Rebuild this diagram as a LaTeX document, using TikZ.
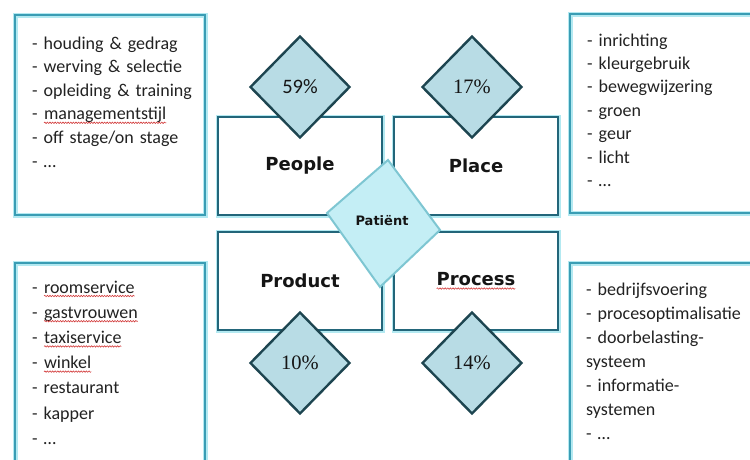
\documentclass[tikz,border=0pt]{standalone}
\usepackage{fontspec}
\setmainfont{Carlito}
\newfontfamily\titlefont{DejaVu Sans}
\newfontfamily\pctserif{Liberation Serif}
\usetikzlibrary{shapes.geometric,decorations.pathmorphing}

\definecolor{boxline}{HTML}{3A9DB4}
\definecolor{halo}{HTML}{B3E9F1}
\definecolor{rectline}{HTML}{23667A}
\definecolor{diafill}{HTML}{B8DCE5}
\definecolor{dialine}{HTML}{1D4550}
\definecolor{patfill}{HTML}{C4EEF5}
\definecolor{patline}{HTML}{7EC6D2}
\definecolor{txt}{HTML}{222222}
\definecolor{titletxt}{HTML}{151515}
\definecolor{spellred}{HTML}{D23A3A}

% red wavy underline for the flagged words
\newcommand\spellwave[1]{\tikz[baseline=(sw.base)]{%
  \node[shape=rectangle, draw=none, fill=none, inner sep=0pt, outer sep=0pt,
        minimum width=0pt, minimum height=0pt] (sw) {#1};
  \draw[spellred, line width=0.6pt, decorate,
        decoration={snake, amplitude=0.7pt, segment length=2.6pt}]
    ([yshift=-3pt]sw.base west) -- ([yshift=-3pt]sw.base east);}}

\tikzset{
  listbox/.style={draw=boxline, line width=2.2pt, preaction={draw=halo, line width=5pt}},
  listtext/.style={font=\fontsize{18}{#1}\selectfont, text=txt, inner sep=0pt,
                   text width=175pt, align=left, anchor=base west},
  catbox/.style={rectangle, draw=rectline, line width=2.6pt, fill=white,
                 preaction={draw=halo, line width=5pt},
                 minimum width=164pt, minimum height=98pt, inner sep=0pt,
                 font=\titlefont\bfseries\fontsize{18}{20}\selectfont, text=titletxt},
  pctdia/.style={diamond, draw=dialine, fill=diafill, line width=2.4pt,
                 minimum width=100pt, minimum height=102pt, inner sep=0pt,
                 font=\fontsize{20.5}{22}\selectfont, text=titletxt},
  patdia/.style={draw=patline, fill=patfill, line width=2pt, line join=miter},
}

\begin{document}
\begin{tikzpicture}[x=1pt, y=-1pt]
\useasboundingbox (0,0) rectangle (750,459);
\clip (0,0) rectangle (750,459);
\fill[white] (0,0) rectangle (750,459);

% outer list boxes
\draw[listbox] (15,15) rectangle (205,215);
\draw[listbox] (570,14) rectangle (758,213);
\draw[listbox] (15,263) rectangle (205,480);
\draw[listbox] (570,263) rectangle (758,480);

\node[listtext=23.6] (peopleList) at (32,49) {%
  - houding \& gedrag\\
  - werving \& selectie\\
  - opleiding \& training\\
  - \spellwave{managementstijl}\\
  - off stage/on stage\\
  - \dots};

\node[listtext=23.4] (placeList) at (587,46) {%
  - inrichting\\
  - kleurgebruik\\
  - bewegwijzering\\
  - groen\\
  - geur\\
  - licht\\
  - \dots};

\node[listtext=25.2] (productList) at (32,293) {%
  - \spellwave{roomservice}\\
  - \spellwave{gastvrouwen}\\
  - \spellwave{taxiservice}\\
  - \spellwave{winkel}\\
  - restaurant\\
  - kapper\\
  - \dots};

\node[listtext=24] (processList) at (586,295) {%
  - bedrijfsvoering\\
  - procesoptimalisatie\\
  - doorbelasting-\\
  systeem\\
  - informatie-\\
  systemen\\
  - \dots};

% the four P's
\node[catbox] (people)  at (300,166) {People};
\node[catbox] (place)   at (476,166) {Place};
\node[catbox] (product) at (300,281) {Product};
\node[catbox] (process) at (476,281) {\spellwave{Process}};

% share diamonds
\node[pctdia] (pPeople)  at (300,87)  {59\%};
\node[pctdia] (pPlace)   at (472,87)  {\pctserif 17\%};
\node[pctdia] (pProduct) at (300,363) {\pctserif 10\%};
\node[pctdia] (pProcess) at (472,363) {\pctserif 14\%};

% patient at the centre
\coordinate (patTop) at (388,160);
\coordinate (patRight) at (440,230);
\coordinate (patBottom) at (380,287);
\coordinate (patLeft) at (327,213);
\draw[patdia] (patTop) -- (patRight) -- (patBottom) -- (patLeft) -- cycle;
\node[font=\titlefont\bfseries\fontsize{13}{15}\selectfont, text=titletxt] (patient) at (382,221) {Patiënt};
\end{tikzpicture}
\end{document}
